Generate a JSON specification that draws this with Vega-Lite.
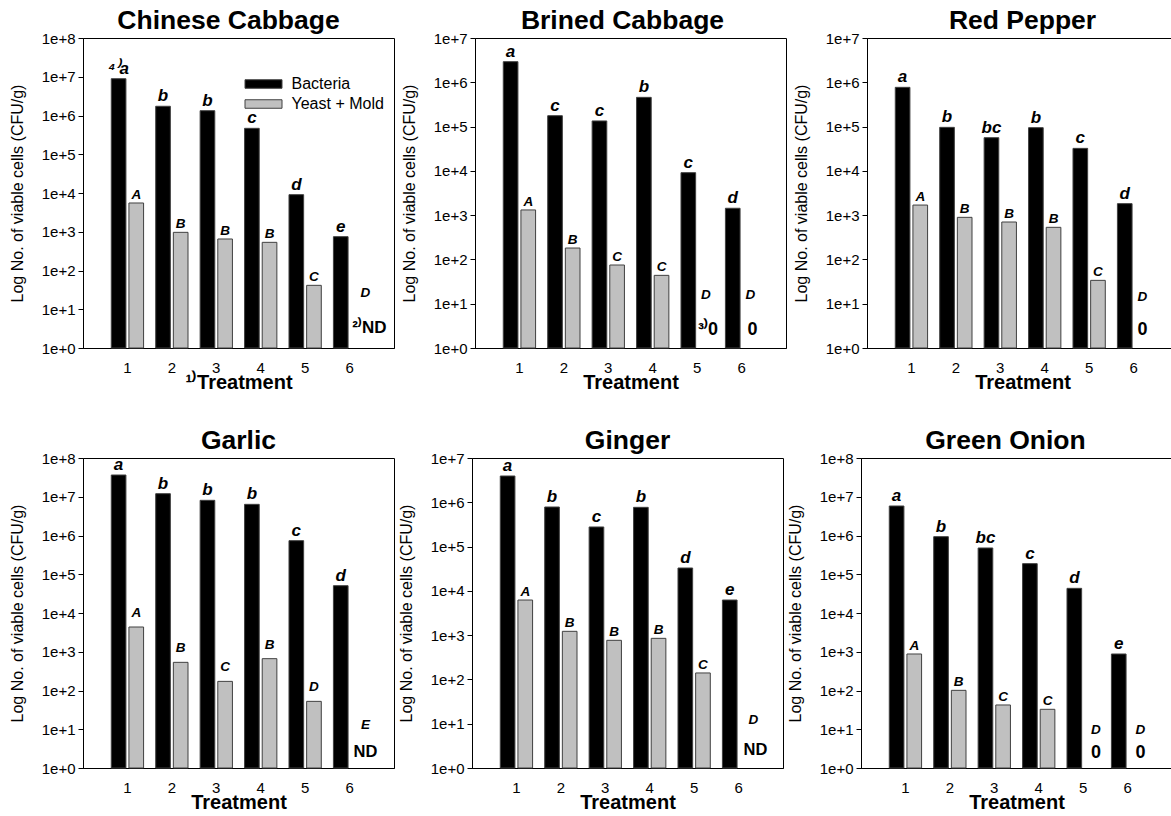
{
"$schema": "https://vega.github.io/schema/vega-lite/v6.json",
"padding": {"left": 8, "top": 7, "right": 0, "bottom": 0},
"datasets": {"d": [
{"p":"Chinese Cabbage","t":"1","s":"Bacteria","v":8900000,"g":"⁴⁾a","m":null},
{"p":"Chinese Cabbage","t":"2","s":"Bacteria","v":1730000,"g":"b","m":null},
{"p":"Chinese Cabbage","t":"3","s":"Bacteria","v":1330000,"g":"b","m":null},
{"p":"Chinese Cabbage","t":"4","s":"Bacteria","v":467000,"g":"c","m":null},
{"p":"Chinese Cabbage","t":"5","s":"Bacteria","v":9060,"g":"d","m":null},
{"p":"Chinese Cabbage","t":"6","s":"Bacteria","v":747,"g":"e","m":null},
{"p":"Chinese Cabbage","t":"1","s":"Yeast + Mold","v":5520,"g":"A","m":null},
{"p":"Chinese Cabbage","t":"2","s":"Yeast + Mold","v":966,"g":"B","m":null},
{"p":"Chinese Cabbage","t":"3","s":"Yeast + Mold","v":650,"g":"B","m":null},
{"p":"Chinese Cabbage","t":"4","s":"Yeast + Mold","v":533,"g":"B","m":null},
{"p":"Chinese Cabbage","t":"5","s":"Yeast + Mold","v":41.4,"g":"C","m":null},
{"p":"Chinese Cabbage","t":"6","s":"Yeast + Mold","v":null,"g":"D","m":"²⁾ND"},
{"p":"Brined Cabbage","t":"1","s":"Bacteria","v":2920000,"g":"a","m":null},
{"p":"Brined Cabbage","t":"2","s":"Bacteria","v":176000,"g":"c","m":null},
{"p":"Brined Cabbage","t":"3","s":"Bacteria","v":134000,"g":"c","m":null},
{"p":"Brined Cabbage","t":"4","s":"Bacteria","v":457000,"g":"b","m":null},
{"p":"Brined Cabbage","t":"5","s":"Bacteria","v":9100,"g":"c","m":null},
{"p":"Brined Cabbage","t":"6","s":"Bacteria","v":1430,"g":"d","m":null},
{"p":"Brined Cabbage","t":"1","s":"Yeast + Mold","v":1310,"g":"A","m":null},
{"p":"Brined Cabbage","t":"2","s":"Yeast + Mold","v":181,"g":"B","m":null},
{"p":"Brined Cabbage","t":"3","s":"Yeast + Mold","v":74.8,"g":"C","m":null},
{"p":"Brined Cabbage","t":"4","s":"Yeast + Mold","v":43.7,"g":"C","m":null},
{"p":"Brined Cabbage","t":"5","s":"Yeast + Mold","v":null,"g":"D","m":"³⁾0"},
{"p":"Brined Cabbage","t":"6","s":"Yeast + Mold","v":null,"g":"D","m":"0"},
{"p":"Red Pepper","t":"1","s":"Bacteria","v":769000,"g":"a","m":null},
{"p":"Red Pepper","t":"2","s":"Bacteria","v":96000,"g":"b","m":null},
{"p":"Red Pepper","t":"3","s":"Bacteria","v":56100,"g":"bc","m":null},
{"p":"Red Pepper","t":"4","s":"Bacteria","v":94500,"g":"b","m":null},
{"p":"Red Pepper","t":"5","s":"Bacteria","v":32200,"g":"c","m":null},
{"p":"Red Pepper","t":"6","s":"Bacteria","v":1820,"g":"d","m":null},
{"p":"Red Pepper","t":"1","s":"Yeast + Mold","v":1690,"g":"A","m":null},
{"p":"Red Pepper","t":"2","s":"Yeast + Mold","v":892,"g":"B","m":null},
{"p":"Red Pepper","t":"3","s":"Yeast + Mold","v":700,"g":"B","m":null},
{"p":"Red Pepper","t":"4","s":"Yeast + Mold","v":531,"g":"B","m":null},
{"p":"Red Pepper","t":"5","s":"Yeast + Mold","v":33.7,"g":"C","m":null},
{"p":"Red Pepper","t":"6","s":"Yeast + Mold","v":null,"g":"D","m":"0"},
{"p":"Garlic","t":"1","s":"Bacteria","v":36400000,"g":"a","m":null},
{"p":"Garlic","t":"2","s":"Bacteria","v":12000000,"g":"b","m":null},
{"p":"Garlic","t":"3","s":"Bacteria","v":8090000,"g":"b","m":null},
{"p":"Garlic","t":"4","s":"Bacteria","v":6370000,"g":"b","m":null},
{"p":"Garlic","t":"5","s":"Bacteria","v":736000,"g":"c","m":null},
{"p":"Garlic","t":"6","s":"Bacteria","v":50700,"g":"d","m":null},
{"p":"Garlic","t":"1","s":"Yeast + Mold","v":4350,"g":"A","m":null},
{"p":"Garlic","t":"2","s":"Yeast + Mold","v":533,"g":"B","m":null},
{"p":"Garlic","t":"3","s":"Yeast + Mold","v":172,"g":"C","m":null},
{"p":"Garlic","t":"4","s":"Yeast + Mold","v":663,"g":"B","m":null},
{"p":"Garlic","t":"5","s":"Yeast + Mold","v":52.5,"g":"D","m":null},
{"p":"Garlic","t":"6","s":"Yeast + Mold","v":null,"g":"E","m":"ND"},
{"p":"Ginger","t":"1","s":"Bacteria","v":3920000,"g":"a","m":null},
{"p":"Ginger","t":"2","s":"Bacteria","v":782000,"g":"b","m":null},
{"p":"Ginger","t":"3","s":"Bacteria","v":277000,"g":"c","m":null},
{"p":"Ginger","t":"4","s":"Bacteria","v":769000,"g":"b","m":null},
{"p":"Ginger","t":"5","s":"Bacteria","v":32800,"g":"d","m":null},
{"p":"Ginger","t":"6","s":"Bacteria","v":6210,"g":"e","m":null},
{"p":"Ginger","t":"1","s":"Yeast + Mold","v":6210,"g":"A","m":null},
{"p":"Ginger","t":"2","s":"Yeast + Mold","v":1220,"g":"B","m":null},
{"p":"Ginger","t":"3","s":"Yeast + Mold","v":764,"g":"B","m":null},
{"p":"Ginger","t":"4","s":"Yeast + Mold","v":847,"g":"B","m":null},
{"p":"Ginger","t":"5","s":"Yeast + Mold","v":140,"g":"C","m":null},
{"p":"Ginger","t":"6","s":"Yeast + Mold","v":null,"g":"D","m":"ND"},
{"p":"Green Onion","t":"1","s":"Bacteria","v":5770000,"g":"a","m":null},
{"p":"Green Onion","t":"2","s":"Bacteria","v":933000,"g":"b","m":null},
{"p":"Green Onion","t":"3","s":"Bacteria","v":476000,"g":"bc","m":null},
{"p":"Green Onion","t":"4","s":"Bacteria","v":188000,"g":"c","m":null},
{"p":"Green Onion","t":"5","s":"Bacteria","v":43300,"g":"d","m":null},
{"p":"Green Onion","t":"6","s":"Bacteria","v":875,"g":"e","m":null},
{"p":"Green Onion","t":"1","s":"Yeast + Mold","v":875,"g":"A","m":null},
{"p":"Green Onion","t":"2","s":"Yeast + Mold","v":101,"g":"B","m":null},
{"p":"Green Onion","t":"3","s":"Yeast + Mold","v":42.3,"g":"C","m":null},
{"p":"Green Onion","t":"4","s":"Yeast + Mold","v":32.7,"g":"C","m":null},
{"p":"Green Onion","t":"5","s":"Yeast + Mold","v":null,"g":"D","m":"0"},
{"p":"Green Onion","t":"6","s":"Yeast + Mold","v":null,"g":"D","m":"0"}
]},
"data": {"name": "d"},
"spacing": 34,
"resolve": {"scale": {"fill": "independent", "xOffset": "independent"}, "legend": {"fill": "independent"}},
"vconcat": [
{"hconcat": [
{"width": 311, "height": 310,
 "title": {"text": "Chinese Cabbage", "dx": -10},
 "transform": [{"filter": "datum.p === 'Chinese Cabbage'"}],
 "encoding": {
  "x": {"field": "t", "type": "ordinal", "scale": {"paddingInner": 0.273, "paddingOuter": 0.6365}, "axis": {"title": "¹⁾Treatment"}},
  "xOffset": {"field": "s", "type": "nominal", "scale": {"domain": ["Bacteria", "Yeast + Mold"], "paddingInner": 0.17}}
 },
 "layer": [
  {"transform": [{"filter": "datum.v != null"}],
   "mark": {"type": "bar", "stroke": "#404040", "strokeWidth": 1},
   "encoding": {
    "y": {"field": "v", "type": "quantitative", "scale": {"type": "log", "domain": [1, 100000000]}, "axis": {"values": [1,10,100,1000,10000,100000,1000000,10000000,100000000], "labelExpr": "'1e+' + round(log(datum.value) / LN10)", "title": "Log No. of viable cells (CFU/g)"}},
    "y2": {"datum": 1},
    "fill": {"field": "s", "type": "nominal", "scale": {"domain": ["Bacteria", "Yeast + Mold"], "range": ["#000000", "#c0c0c0"]},
      "legend": {"title": null, "orient": "none", "legendX": 172.5, "legendY": 38, "symbolType": "M-3.7,-0.85H3.7V0.85H-3.7Z", "symbolSize": 100, "symbolStrokeColor": "#404040", "symbolStrokeWidth": 1, "labelFontSize": 16, "labelOffset": 20, "rowPadding": 4, "padding": 0}}
   }},
  {"transform": [{"filter": "datum.s === 'Bacteria'"}],
   "mark": {"type": "text", "fontSize": 17, "fontStyle": "italic", "fontWeight": "bold", "baseline": "alphabetic", "dy": -5},
   "encoding": {"y": {"field": "v", "type": "quantitative"}, "text": {"field": "g"}}},
  {"transform": [{"filter": "datum.s !== 'Bacteria' && datum.v != null"}],
   "mark": {"type": "text", "fontSize": 13.5, "fontStyle": "italic", "fontWeight": "bold", "baseline": "alphabetic", "dy": -4},
   "encoding": {"y": {"field": "v", "type": "quantitative"}, "text": {"field": "g"}}},
  {"transform": [{"filter": "datum.v == null"}],
   "mark": {"type": "text", "fontSize": 13.5, "fontStyle": "italic", "fontWeight": "bold", "baseline": "middle", "dy": -55, "dx": 7},
   "encoding": {"y": {"datum": 1}, "text": {"field": "g"}}},
  {"transform": [{"filter": "datum.v == null"}],
   "mark": {"type": "text", "fontSize": 17, "fontWeight": "bold", "baseline": "middle", "dy": -20, "dx": 11},
   "encoding": {"y": {"datum": 1}, "text": {"field": "m"}}}
 ]},
{"width": 311, "height": 310,
 "title": {"text": "Brined Cabbage", "dx": -8},
 "transform": [{"filter": "datum.p === 'Brined Cabbage'"}],
 "encoding": {
  "x": {"field": "t", "type": "ordinal", "scale": {"paddingInner": 0.273, "paddingOuter": 0.6365}, "axis": {"title": "Treatment"}},
  "xOffset": {"field": "s", "type": "nominal", "scale": {"domain": ["Bacteria", "Yeast + Mold"], "paddingInner": 0.17}}
 },
 "layer": [
  {"transform": [{"filter": "datum.v != null"}],
   "mark": {"type": "bar", "stroke": "#404040", "strokeWidth": 1},
   "encoding": {
    "y": {"field": "v", "type": "quantitative", "scale": {"type": "log", "domain": [1, 10000000]}, "axis": {"values": [1,10,100,1000,10000,100000,1000000,10000000], "labelExpr": "'1e+' + round(log(datum.value) / LN10)", "title": "Log No. of viable cells (CFU/g)"}},
    "y2": {"datum": 1},
    "fill": {"field": "s", "type": "nominal", "scale": {"domain": ["Bacteria", "Yeast + Mold"], "range": ["#000000", "#c0c0c0"]}, "legend": null}
   }},
  {"transform": [{"filter": "datum.s === 'Bacteria'"}],
   "mark": {"type": "text", "fontSize": 17, "fontStyle": "italic", "fontWeight": "bold", "baseline": "alphabetic", "dy": -5},
   "encoding": {"y": {"field": "v", "type": "quantitative"}, "text": {"field": "g"}}},
  {"transform": [{"filter": "datum.s !== 'Bacteria' && datum.v != null"}],
   "mark": {"type": "text", "fontSize": 13.5, "fontStyle": "italic", "fontWeight": "bold", "baseline": "alphabetic", "dy": -4},
   "encoding": {"y": {"field": "v", "type": "quantitative"}, "text": {"field": "g"}}},
  {"transform": [{"filter": "datum.v == null"}],
   "mark": {"type": "text", "fontSize": 13.5, "fontStyle": "italic", "fontWeight": "bold", "baseline": "middle", "dy": -53, "dx": 0},
   "encoding": {"y": {"datum": 1}, "text": {"field": "g"}}},
  {"transform": [{"filter": "datum.v == null"}],
   "mark": {"type": "text", "fontSize": 18, "fontWeight": "bold", "baseline": "middle", "dy": -18, "dx": 2},
   "encoding": {"y": {"datum": 1}, "text": {"field": "m"}}}
 ]},
{"width": 311, "height": 310,
 "title": {"text": "Red Pepper"},
 "transform": [{"filter": "datum.p === 'Red Pepper'"}],
 "encoding": {
  "x": {"field": "t", "type": "ordinal", "scale": {"paddingInner": 0.273, "paddingOuter": 0.6365}, "axis": {"title": "Treatment"}},
  "xOffset": {"field": "s", "type": "nominal", "scale": {"domain": ["Bacteria", "Yeast + Mold"], "paddingInner": 0.17}}
 },
 "layer": [
  {"transform": [{"filter": "datum.v != null"}],
   "mark": {"type": "bar", "stroke": "#404040", "strokeWidth": 1},
   "encoding": {
    "y": {"field": "v", "type": "quantitative", "scale": {"type": "log", "domain": [1, 10000000]}, "axis": {"values": [1,10,100,1000,10000,100000,1000000,10000000], "labelExpr": "'1e+' + round(log(datum.value) / LN10)", "title": "Log No. of viable cells (CFU/g)"}},
    "y2": {"datum": 1},
    "fill": {"field": "s", "type": "nominal", "scale": {"domain": ["Bacteria", "Yeast + Mold"], "range": ["#000000", "#c0c0c0"]}, "legend": null}
   }},
  {"transform": [{"filter": "datum.s === 'Bacteria'"}],
   "mark": {"type": "text", "fontSize": 17, "fontStyle": "italic", "fontWeight": "bold", "baseline": "alphabetic", "dy": -5},
   "encoding": {"y": {"field": "v", "type": "quantitative"}, "text": {"field": "g"}}},
  {"transform": [{"filter": "datum.s !== 'Bacteria' && datum.v != null"}],
   "mark": {"type": "text", "fontSize": 13.5, "fontStyle": "italic", "fontWeight": "bold", "baseline": "alphabetic", "dy": -4},
   "encoding": {"y": {"field": "v", "type": "quantitative"}, "text": {"field": "g"}}},
  {"transform": [{"filter": "datum.v == null"}],
   "mark": {"type": "text", "fontSize": 13.5, "fontStyle": "italic", "fontWeight": "bold", "baseline": "middle", "dy": -51, "dx": 0},
   "encoding": {"y": {"datum": 1}, "text": {"field": "g"}}},
  {"transform": [{"filter": "datum.v == null"}],
   "mark": {"type": "text", "fontSize": 18, "fontWeight": "bold", "baseline": "middle", "dy": -18, "dx": 0},
   "encoding": {"y": {"datum": 1}, "text": {"field": "m"}}}
 ]}
], "spacing": 81, "bounds": "flush", "resolve": {"scale": {"fill": "independent", "xOffset": "independent"}, "legend": {"fill": "independent"}}},
{"hconcat": [
{"width": 311, "height": 310,
 "title": {"text": "Garlic"},
 "transform": [{"filter": "datum.p === 'Garlic'"}],
 "encoding": {
  "x": {"field": "t", "type": "ordinal", "scale": {"paddingInner": 0.273, "paddingOuter": 0.6365}, "axis": {"title": "Treatment"}},
  "xOffset": {"field": "s", "type": "nominal", "scale": {"domain": ["Bacteria", "Yeast + Mold"], "paddingInner": 0.17}}
 },
 "layer": [
  {"transform": [{"filter": "datum.v != null"}],
   "mark": {"type": "bar", "stroke": "#404040", "strokeWidth": 1},
   "encoding": {
    "y": {"field": "v", "type": "quantitative", "scale": {"type": "log", "domain": [1, 100000000]}, "axis": {"values": [1,10,100,1000,10000,100000,1000000,10000000,100000000], "labelExpr": "'1e+' + round(log(datum.value) / LN10)", "title": "Log No. of viable cells (CFU/g)"}},
    "y2": {"datum": 1},
    "fill": {"field": "s", "type": "nominal", "scale": {"domain": ["Bacteria", "Yeast + Mold"], "range": ["#000000", "#c0c0c0"]}, "legend": null}
   }},
  {"transform": [{"filter": "datum.s === 'Bacteria'"}],
   "mark": {"type": "text", "fontSize": 17, "fontStyle": "italic", "fontWeight": "bold", "baseline": "alphabetic", "dy": -5},
   "encoding": {"y": {"field": "v", "type": "quantitative"}, "text": {"field": "g"}}},
  {"transform": [{"filter": "datum.s !== 'Bacteria' && datum.v != null"}],
   "mark": {"type": "text", "fontSize": 13.5, "fontStyle": "italic", "fontWeight": "bold", "baseline": "alphabetic", "dy": -10},
   "encoding": {"y": {"field": "v", "type": "quantitative"}, "text": {"field": "g"}}},
  {"transform": [{"filter": "datum.v == null"}],
   "mark": {"type": "text", "fontSize": 13.5, "fontStyle": "italic", "fontWeight": "bold", "baseline": "middle", "dy": -43, "dx": 7},
   "encoding": {"y": {"datum": 1}, "text": {"field": "g"}}},
  {"transform": [{"filter": "datum.v == null"}],
   "mark": {"type": "text", "fontSize": 16.5, "fontWeight": "bold", "baseline": "middle", "dy": -16, "dx": 7},
   "encoding": {"y": {"datum": 1}, "text": {"field": "m"}}}
 ]},
{"width": 311, "height": 310,
 "title": {"text": "Ginger"},
 "transform": [{"filter": "datum.p === 'Ginger'"}],
 "encoding": {
  "x": {"field": "t", "type": "ordinal", "scale": {"paddingInner": 0.273, "paddingOuter": 0.6365}, "axis": {"title": "Treatment"}},
  "xOffset": {"field": "s", "type": "nominal", "scale": {"domain": ["Bacteria", "Yeast + Mold"], "paddingInner": 0.17}}
 },
 "layer": [
  {"transform": [{"filter": "datum.v != null"}],
   "mark": {"type": "bar", "stroke": "#404040", "strokeWidth": 1},
   "encoding": {
    "y": {"field": "v", "type": "quantitative", "scale": {"type": "log", "domain": [1, 10000000]}, "axis": {"values": [1,10,100,1000,10000,100000,1000000,10000000], "labelExpr": "'1e+' + round(log(datum.value) / LN10)", "title": "Log No. of viable cells (CFU/g)"}},
    "y2": {"datum": 1},
    "fill": {"field": "s", "type": "nominal", "scale": {"domain": ["Bacteria", "Yeast + Mold"], "range": ["#000000", "#c0c0c0"]}, "legend": null}
   }},
  {"transform": [{"filter": "datum.s === 'Bacteria'"}],
   "mark": {"type": "text", "fontSize": 17, "fontStyle": "italic", "fontWeight": "bold", "baseline": "alphabetic", "dy": -5},
   "encoding": {"y": {"field": "v", "type": "quantitative"}, "text": {"field": "g"}}},
  {"transform": [{"filter": "datum.s !== 'Bacteria' && datum.v != null"}],
   "mark": {"type": "text", "fontSize": 13.5, "fontStyle": "italic", "fontWeight": "bold", "baseline": "alphabetic", "dy": -4},
   "encoding": {"y": {"field": "v", "type": "quantitative"}, "text": {"field": "g"}}},
  {"transform": [{"filter": "datum.v == null"}],
   "mark": {"type": "text", "fontSize": 13.5, "fontStyle": "italic", "fontWeight": "bold", "baseline": "middle", "dy": -48, "dx": 6},
   "encoding": {"y": {"datum": 1}, "text": {"field": "g"}}},
  {"transform": [{"filter": "datum.v == null"}],
   "mark": {"type": "text", "fontSize": 16.5, "fontWeight": "bold", "baseline": "middle", "dy": -18, "dx": 8},
   "encoding": {"y": {"datum": 1}, "text": {"field": "m"}}}
 ]},
{"width": 311, "height": 310,
 "title": {"text": "Green Onion", "dx": -11},
 "transform": [{"filter": "datum.p === 'Green Onion'"}],
 "encoding": {
  "x": {"field": "t", "type": "ordinal", "scale": {"paddingInner": 0.273, "paddingOuter": 0.6365}, "axis": {"title": "Treatment"}},
  "xOffset": {"field": "s", "type": "nominal", "scale": {"domain": ["Bacteria", "Yeast + Mold"], "paddingInner": 0.17}}
 },
 "layer": [
  {"transform": [{"filter": "datum.v != null"}],
   "mark": {"type": "bar", "stroke": "#404040", "strokeWidth": 1},
   "encoding": {
    "y": {"field": "v", "type": "quantitative", "scale": {"type": "log", "domain": [1, 100000000]}, "axis": {"values": [1,10,100,1000,10000,100000,1000000,10000000,100000000], "labelExpr": "'1e+' + round(log(datum.value) / LN10)", "title": "Log No. of viable cells (CFU/g)"}},
    "y2": {"datum": 1},
    "fill": {"field": "s", "type": "nominal", "scale": {"domain": ["Bacteria", "Yeast + Mold"], "range": ["#000000", "#c0c0c0"]}, "legend": null}
   }},
  {"transform": [{"filter": "datum.s === 'Bacteria'"}],
   "mark": {"type": "text", "fontSize": 17, "fontStyle": "italic", "fontWeight": "bold", "baseline": "alphabetic", "dy": -5},
   "encoding": {"y": {"field": "v", "type": "quantitative"}, "text": {"field": "g"}}},
  {"transform": [{"filter": "datum.s !== 'Bacteria' && datum.v != null"}],
   "mark": {"type": "text", "fontSize": 13.5, "fontStyle": "italic", "fontWeight": "bold", "baseline": "alphabetic", "dy": -4},
   "encoding": {"y": {"field": "v", "type": "quantitative"}, "text": {"field": "g"}}},
  {"transform": [{"filter": "datum.v == null"}],
   "mark": {"type": "text", "fontSize": 13.5, "fontStyle": "italic", "fontWeight": "bold", "baseline": "middle", "dy": -38, "dx": 4},
   "encoding": {"y": {"datum": 1}, "text": {"field": "g"}}},
  {"transform": [{"filter": "datum.v == null"}],
   "mark": {"type": "text", "fontSize": 18, "fontWeight": "bold", "baseline": "middle", "dy": -15, "dx": 4},
   "encoding": {"y": {"datum": 1}, "text": {"field": "m"}}}
 ]}
], "spacing": 78, "bounds": "flush", "resolve": {"scale": {"fill": "independent", "xOffset": "independent"}, "legend": {"fill": "independent"}}}
],
"config": {
 "font": "Liberation Sans",
 "view": {"stroke": "#000000", "strokeWidth": 1},
 "axis": {"grid": false, "domainColor": "#000000", "tickColor": "#000000", "labelColor": "#000000", "titleColor": "#000000", "labelFontSize": 15, "labelFont": "Liberation Sans", "titleFont": "Liberation Sans"},
 "axisX": {"ticks": false, "labelAngle": 0, "labelPadding": 12, "titleFontSize": 20, "titleFontWeight": "bold", "titlePadding": -3},
 "axisY": {"titleFontSize": 16, "titleFontWeight": "normal", "titlePadding": 16, "tickSize": 5, "labelPadding": 3},
 "title": {"fontSize": 26.5, "fontWeight": "bold", "color": "#000000", "offset": -3, "font": "Liberation Sans"},
 "legend": {"labelFont": "Liberation Sans", "labelColor": "#000000"}
}
}
